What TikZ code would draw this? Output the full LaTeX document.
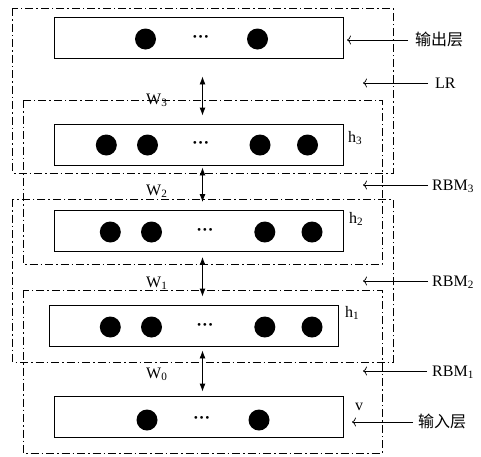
\documentclass[tikz,border=0pt]{standalone}
\usepackage{fontspec}
\setmainfont{Liberation Serif}
\newfontfamily\cjkfont{Noto Sans CJK SC}
\usetikzlibrary{arrows.meta}

\begin{document}
\begin{tikzpicture}[
    x=1pt, y=-1pt,
    layer/.style={
        draw,
        line width=0.9pt,
        minimum width=289pt,
        minimum height=41pt,
        inner sep=0pt
    },
    unit/.style={circle, fill=black, minimum size=21pt, inner sep=0pt},
    ellip/.style={font=\fontsize{17}{19}\selectfont\bfseries, inner sep=0pt},
    frame/.style={line width=0.9pt, dash pattern=on 8pt off 3pt on 1.5pt off 3pt},
    link/.style={
        {Latex[length=8pt,width=6pt]}-{Latex[length=8pt,width=6pt]},
        line width=0.9pt
    },
    pointer/.style={-{To[length=4pt,width=9pt]}, line width=0.7pt},
    tag/.style={
        font=\fontsize{16}{18}\selectfont,
        text height=10.5pt, text depth=0pt,
        inner sep=0pt, anchor=west
    }
]
\useasboundingbox (0,0) rectangle (481,456);

% Layers of the deep belief network
\node[layer] (out) at (198.5,37.5) {};
\node[layer] (h3)  at (198.5,144.5) {};
\node[layer] (h2)  at (198.5,231) {};
\node[layer] (h1)  at (194,326) {};
\node[layer] (v)   at (198.5,417) {};

% Units in each layer
\foreach \x [count=\i] in {145.5,257.5}
    \node[unit] (out-\i) at (\x,39) {};
\node[ellip] (out-dots) at (200.7,39) {···};
\foreach \x [count=\i] in {106.3,147.5,260,307.5}
    \node[unit] (h3-\i) at (\x,145) {};
\node[ellip] (h3-dots) at (200.7,145) {···};
\foreach \x [count=\i] in {110.3,151.5,264.8,312}
    \node[unit] (h2-\i) at (\x,232) {};
\node[ellip] (h2-dots) at (205,232) {···};
\foreach \x [count=\i] in {110.3,151.5,264.8,312}
    \node[unit] (h1-\i) at (\x,327) {};
\node[ellip] (h1-dots) at (205,327) {···};
\foreach \x [count=\i] in {147,259}
    \node[unit] (v-\i) at (\x,420) {};
\node[ellip] (v-dots) at (201.7,420) {···};

% Weights between neighbouring layers
\coordinate (axis) at (202.5,0);
\draw[link, shorten <=18pt, shorten >=8pt] (out.south -| axis) -- (h3.north -| axis);
\draw[link, shorten <=2pt, shorten >=8pt] (h3.south -| axis) -- (h2.north -| axis);
\draw[link, shorten <=5pt, shorten >=8.5pt] (h2.south -| axis) -- (h1.north -| axis);
\draw[link, shorten <=3.5pt, shorten >=4.5pt] (h1.south -| axis) -- (v.north -| axis);
\node[tag] (w3) at (146,99) {W\textsubscript{3}};
\node[tag] (w2) at (146,190) {W\textsubscript{2}};
\node[tag] (w1) at (146,282) {W\textsubscript{1}};
\node[tag] (w0) at (146,373) {W\textsubscript{0}};

% Layer names
\node[tag] (h3-name) at (348,137) {h\textsubscript{3}};
\node[tag] (h2-name) at (349,218) {h\textsubscript{2}};
\node[tag] (h1-name) at (345,312) {h\textsubscript{1}};
\node[tag] (v-name)  at (355,405) {v};

% Groups: logistic regression and stacked RBMs
\draw[frame] (12.7,8.3) rectangle (393,173);
\draw[frame] (23,100) rectangle (382,264);
\draw[frame] (12.7,199) rectangle (393,362);
\draw[frame] (23,290) rectangle (382,453);

% Side annotations
\node[tag] (out-lab) at (415,40) {\cjkfont 输出层};
\node[tag] (lr-lab)  at (435,83) {LR};
\node[tag] (rbm3-lab) at (432,185) {RBM\textsubscript{3}};
\node[tag] (rbm2-lab) at (432,281) {RBM\textsubscript{2}};
\node[tag] (rbm1-lab) at (432,371) {RBM\textsubscript{1}};
\node[tag] (in-lab)  at (418,422) {\cjkfont 输入层};

\coordinate (out-tip)  at (347,40);
\coordinate (lr-tip)   at (363,83);
\coordinate (rbm3-tip) at (363,185);
\coordinate (rbm2-tip) at (363,281);
\coordinate (rbm1-tip) at (363,371);
\coordinate (in-tip)   at (352,422);

\draw[pointer, shorten <=7pt] (out-lab.west) -- (out-tip);
\draw[pointer, shorten <=7pt] (lr-lab.west) -- (lr-tip);
\draw[pointer, shorten <=4pt] (rbm3-lab.west) -- (rbm3-tip);
\draw[pointer, shorten <=4pt] (rbm2-lab.west) -- (rbm2-tip);
\draw[pointer, shorten <=5pt] (rbm1-lab.west) -- (rbm1-tip);
\draw[pointer, shorten <=5pt] (in-lab.west) -- (in-tip);
\end{tikzpicture}
\end{document}
